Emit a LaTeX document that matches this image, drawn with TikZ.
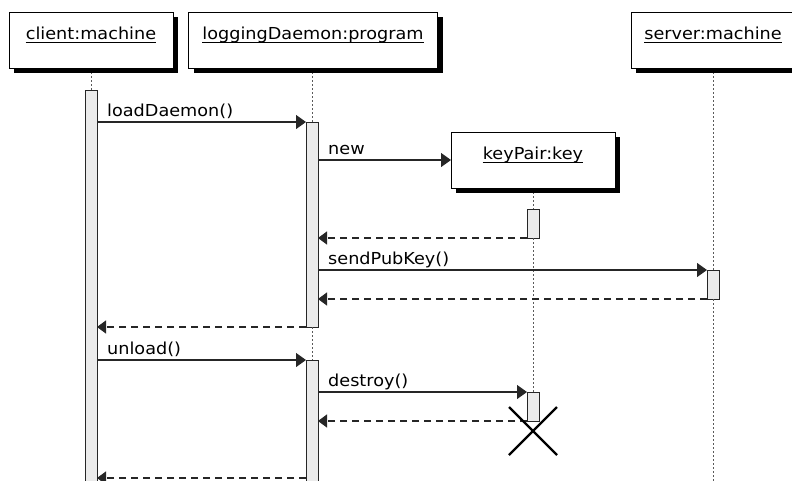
\documentclass[tikz,border=0pt]{standalone}
\usepackage{fontspec}
\setmainfont{DejaVu Sans}[FakeStretch=1.07]
\usetikzlibrary{arrows.meta,shadows}
\definecolor{barfill}{RGB}{235,235,235}
\definecolor{lifegray}{RGB}{90,90,90}
\begin{document}
\begin{tikzpicture}[x=1pt,y=-1pt,
  every node/.style={font=\fontsize{16.5}{20}\selectfont},
  object/.style={draw=black, line width=1pt, fill=white, minimum height=56pt,
    inner sep=0pt, outer sep=0pt,
    drop shadow={shadow xshift=5pt, shadow yshift=-5pt, fill=black, opacity=1}},
  objlabel/.style={anchor=base, inner sep=0pt},
  uline/.style={line width=1pt},
  lifeline/.style={draw=lifegray, line width=0.8pt, dash pattern=on 2pt off 2pt},
  actbar/.style={draw=black!85, fill=barfill, line width=1pt, minimum width=12pt,
    inner sep=0pt, outer sep=0pt, anchor=north},
  call/.style={draw=black!85, line width=1.2pt, -{Triangle[length=10pt,width=14pt]}},
  reply/.style={draw=black!85, line width=1.2pt, dash pattern=on 7pt off 5pt,
    -{Triangle[length=9pt,width=13pt]}},
  msglabel/.style={anchor=base west, inner sep=0pt},
]
\useasboundingbox (0,0) rectangle (792,480);
\clip (0,0) rectangle (792,480);

% activation bars
\node[actbar, minimum height=400pt] (cb)  at (91,90)  {};
\node[actbar, minimum height=205pt] (lb1) at (312,122) {};
\node[actbar, minimum height=29pt]  (kb1) at (533,209) {};
\node[actbar, minimum height=29pt]  (sb)  at (713,270) {};
\node[actbar, minimum height=130pt] (lb2) at (312,360) {};
\node[actbar, minimum height=29pt]  (kb2) at (533,392) {};

% lifelines (only in the gaps between boxes and bars)
\coordinate (clienttop) at (91,68);
\coordinate (daemontop) at (312,68);
\coordinate (keytop)    at (533,188);
\coordinate (servertop) at (713,68);
\coordinate (send)      at (713,490);
\draw[lifeline] (clienttop) -- (cb.north);
\draw[lifeline] (daemontop) -- (lb1.north);
\draw[lifeline] (lb1.south) -- (lb2.north);
\draw[lifeline] (keytop) -- (kb1.north);
\draw[lifeline] (kb1.south) -- (kb2.north);
\draw[lifeline] (servertop) -- (sb.north);
\draw[lifeline] (sb.south) -- (send);

% objects
\node[object, minimum width=164pt] (client) at (91,40)  {};
\node[object, minimum width=249pt] (daemon) at (313,40) {};
\node[object, minimum width=164pt] (server) at (713,40) {};
\node[object, minimum width=164pt] (key)    at (533,160) {};

% object labels
\node[objlabel] (clientL) at (91,39)  {client:machine};
\node[objlabel] (daemonL) at (313,39) {loggingDaemon:program};
\node[objlabel] (serverL) at (713,39) {server:machine};
\node[objlabel] (keyL)    at (533,159) {keyPair:key};
\foreach \l in {clientL,daemonL,serverL,keyL}
  \draw[uline] ([yshift=-3pt]\l.base west) -- ([yshift=-3pt]\l.base east);

% messages
\draw[call]  (cb.east |- lb1.north) -- (lb1.north west);
\draw[call]  (lb1.east |- key.west) -- (key.west);
\draw[reply] (kb1.south west) -- (lb1.east |- kb1.south);
\draw[call]  (lb1.east |- sb.north) -- (sb.north west);
\draw[reply] (sb.south west) -- (lb1.east |- sb.south);
\draw[reply] (lb1.south west) -- (cb.east |- lb1.south);
\draw[call]  (cb.east |- lb2.north) -- (lb2.north west);
\draw[call]  (lb2.east |- kb2.north) -- (kb2.north west);
\draw[reply] (kb2.south west) -- (lb2.east |- kb2.south);
\coordinate (fin) at (306,478);
\draw[reply] (fin) -- (cb.east |- fin);

% message labels
\node[msglabel] (m1) at (107,116) {loadDaemon()};
\node[msglabel] (m2) at (328,154) {new};
\node[msglabel] (m3) at (328,264) {sendPubKey()};
\node[msglabel] (m4) at (107,354) {unload()};
\node[msglabel] (m5) at (328,386) {destroy()};

% destruction mark
\coordinate (kx) at (533,431);
\draw[line width=2.2pt] ([shift={(-24,-24)}]kx) -- ([shift={(24,24)}]kx)
                        ([shift={(24,-24)}]kx) -- ([shift={(-24,24)}]kx);
\end{tikzpicture}
\end{document}
